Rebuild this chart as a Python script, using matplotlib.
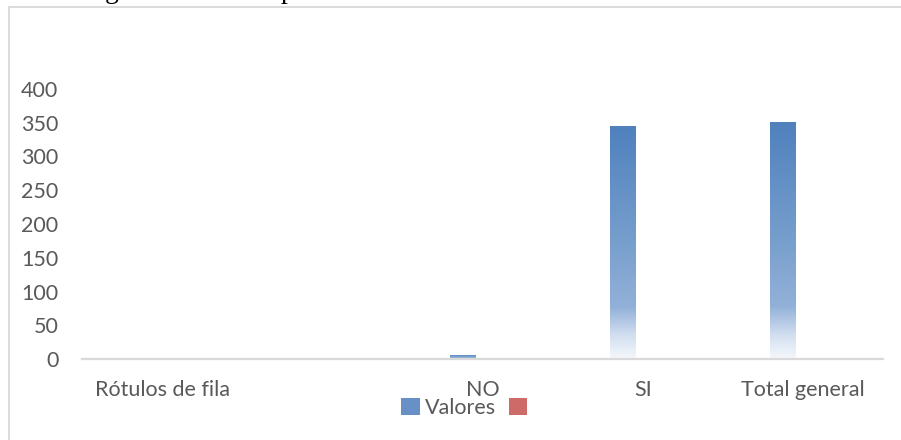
import numpy as np
import matplotlib
matplotlib.use("Agg")
import matplotlib.pyplot as plt
from matplotlib.colors import LinearSegmentedColormap
from matplotlib.patches import Patch
from matplotlib.lines import Line2D

# ---- data ----
categories = ["Rótulos de fila", "", "NO", "SI", "Total general"]
valores = [np.nan, np.nan, 6, 345, 351]
serie2 = [np.nan, np.nan, np.nan, np.nan, np.nan]
yticks = [0, 50, 100, 150, 200, 250, 300, 350, 400]
legend_labels = ["Valores", ""]

W, H = 901, 440
fig = plt.figure(figsize=(W / 100, H / 100), dpi=100)
fig.patch.set_facecolor("white")

FONT = ["Lato", "DejaVu Sans"]
GRAY = "#595959"
FS = 15.5

ax = fig.add_axes([82 / W, 1 - 359 / H, 801 / W, 270 / H])
ax.set_xlim(-0.5, len(categories) - 0.5)
ax.set_ylim(0, 400)

x = np.arange(len(categories))
bw = 0.162
off = 0.122

blue_cmap = LinearSegmentedColormap.from_list(
    "bg", [(0.0, "#4f81bd"), (0.5, "#779fcd"), (0.78, "#93b1d8"),
           (0.9, "#d2dff0"), (1.0, "#f5f8fc")])
red_cmap = LinearSegmentedColormap.from_list(
    "rg", [(0.0, "#c0504d"), (0.78, "#d68a88"), (1.0, "#f8eeee")])

grad = np.linspace(0, 1, 256).reshape(-1, 1)

def grad_bars(xs, vals, cmap):
    bars = ax.bar(xs, vals, width=bw, facecolor="none", edgecolor="none")
    for b in bars:
        h = b.get_height()
        if not np.isfinite(h) or h <= 0:
            continue
        x0 = b.get_x()
        im = ax.imshow(grad, cmap=cmap, aspect="auto",
                       extent=(x0, x0 + b.get_width(), 0, h),
                       origin="upper", zorder=2, interpolation="bilinear")
        im.set_clip_path(b)
    return bars

grad_bars(x - off, valores, blue_cmap)
grad_bars(x + off, serie2, red_cmap)
ax.set_xlim(-0.5, len(categories) - 0.5)
ax.set_ylim(0, 400)
ax.set_aspect("auto")

ax.set_xticks(x)
ax.set_xticklabels(categories)
ax.set_yticks(yticks)
ax.set_yticklabels([str(v) for v in yticks])
ax.tick_params(axis="both", length=0, labelsize=FS, labelcolor=GRAY)
ax.tick_params(axis="y", pad=17)
ax.tick_params(axis="x", pad=15)
for lab in ax.get_xticklabels() + ax.get_yticklabels():
    lab.set_family(FONT)

for s in ["top", "right", "left"]:
    ax.spines[s].set_visible(False)
ax.spines["bottom"].set_color("#d9d9d9")
ax.spines["bottom"].set_linewidth(1.6)

# legend
handles = [Patch(facecolor="#6690c6", edgecolor="none"),
           Patch(facecolor="#cc6b68", edgecolor="none")]
leg = fig.legend(handles, legend_labels, loc="center",
                 bbox_to_anchor=(467 / W, 1 - 408 / H), ncol=2, frameon=False,
                 handlelength=0.85, handleheight=0.85, handletextpad=0.25,
                 columnspacing=0.6, borderaxespad=0, borderpad=0,
                 prop={"family": FONT, "size": FS})
for t in leg.get_texts():
    t.set_color(GRAY)

# chart area border (top & left visible)
fig.add_artist(Line2D([9 / W, 1.0], [1 - 7 / H, 1 - 7 / H],
                      transform=fig.transFigure, color="#d9d9d9", lw=1.3))
fig.add_artist(Line2D([9 / W, 9 / W], [0.0, 1 - 7 / H],
                      transform=fig.transFigure, color="#d9d9d9", lw=1.3))

# cut-off caption descenders at the very top
fig.text(112 / W, 1 + 1.5 / H, "g", ha="center", va="baseline",
         family=["Liberation Serif"], fontsize=20, color="black")
fig.text(288 / W, 1 + 1.5 / H, "p", ha="center", va="baseline",
         family=["Liberation Serif"], fontsize=20, color="black")

fig.savefig("out.png", dpi=100)
